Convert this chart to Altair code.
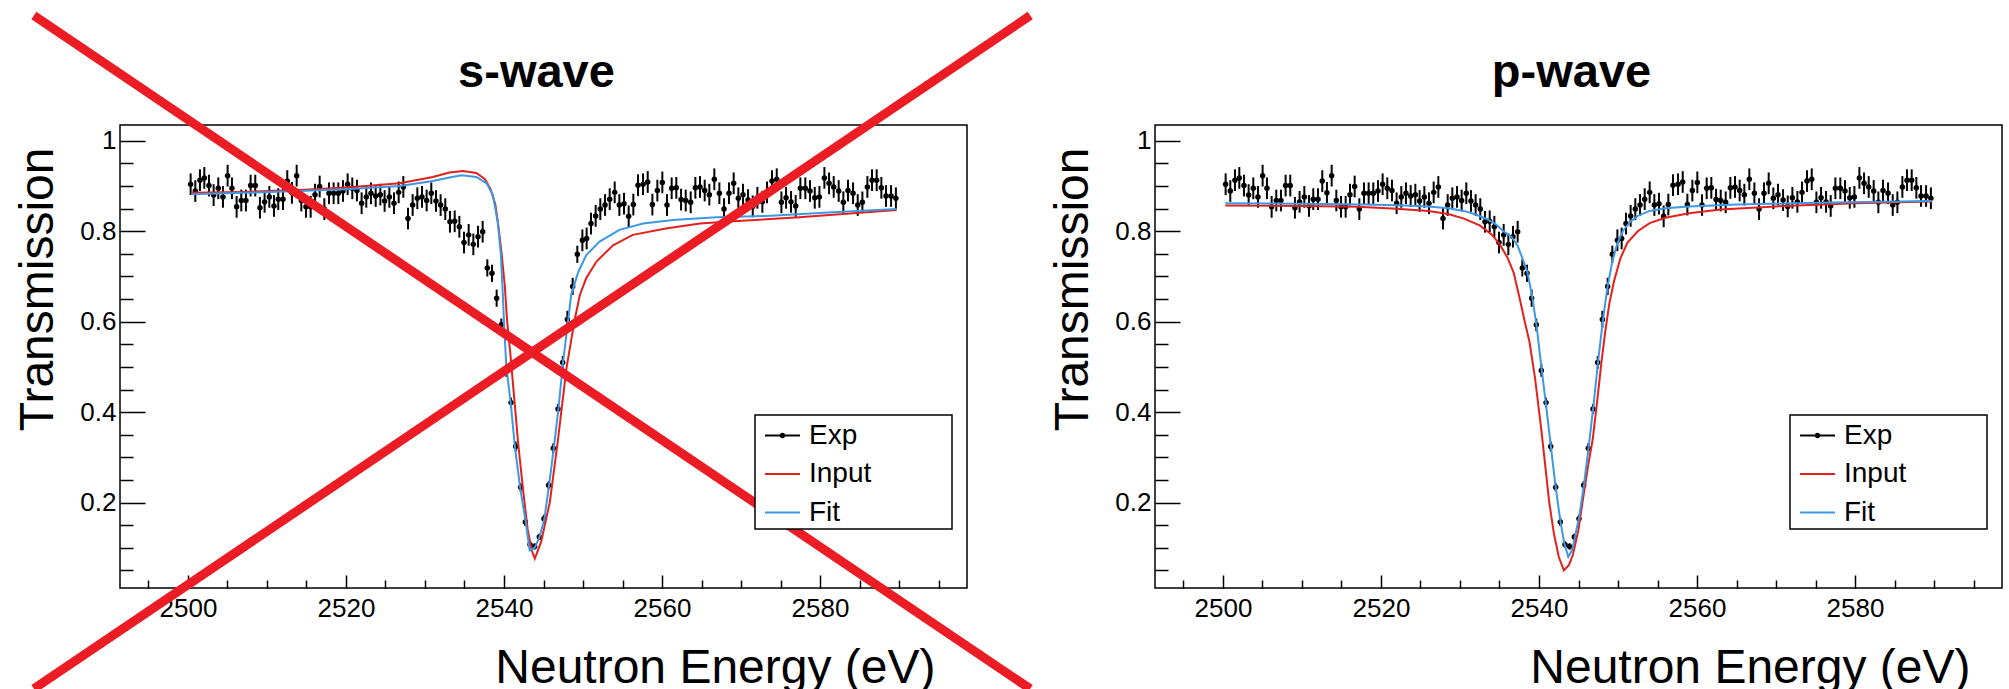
import altair as alt
import pandas as pd

FONT = "Liberation Sans"

# measured transmission (same run shown in both panels)
energy = [
    2500.34, 2500.93, 2501.52, 2502.07, 2502.66, 2503.25, 2503.84, 2504.43, 2505.02, 2505.57,
    2506.16, 2506.75, 2507.34, 2507.93, 2508.52, 2509.11, 2509.70, 2510.30, 2510.89, 2511.43,
    2512.03, 2512.57, 2513.16, 2513.76, 2514.35, 2514.94, 2515.53, 2516.08, 2516.67, 2517.26,
    2517.85, 2518.44, 2519.03, 2519.62, 2520.21, 2520.80, 2521.39, 2521.98, 2522.57, 2523.16,
    2523.76, 2524.35, 2524.89, 2525.49, 2526.08, 2526.67, 2527.26, 2527.85, 2528.44, 2529.03,
    2529.62, 2530.21, 2530.80, 2531.39, 2531.98, 2532.57, 2533.16, 2533.76, 2534.35, 2534.94,
    2535.53, 2536.12, 2536.71, 2537.30, 2537.89, 2538.48, 2539.07, 2539.66, 2540.30, 2540.89,
    2541.48, 2542.11, 2542.70, 2543.29, 2543.88, 2544.47, 2545.06, 2545.65, 2546.24, 2546.84,
    2547.43, 2548.02, 2548.69, 2549.28, 2549.92, 2550.46, 2551.01, 2551.60, 2552.19, 2552.79,
    2553.38, 2554.01, 2554.60, 2555.19, 2555.78, 2556.37, 2556.96, 2557.60, 2558.19, 2558.78,
    2559.41, 2560.04, 2560.63, 2561.22, 2561.81, 2562.41, 2563.00, 2563.63, 2564.22, 2564.81,
    2565.40, 2565.99, 2566.62, 2567.26, 2567.85, 2568.48, 2569.07, 2569.66, 2570.25, 2570.89,
    2571.48, 2572.07, 2572.70, 2573.29, 2573.92, 2574.52, 2575.11, 2575.70, 2576.33, 2576.92,
    2577.51, 2578.14, 2578.73, 2579.33, 2579.92, 2580.55, 2581.14, 2581.73, 2582.36, 2582.95,
    2583.54, 2584.18, 2584.77, 2585.36, 2585.99, 2586.58, 2587.17, 2587.76, 2588.35, 2588.99,
    2589.60,
]
transmission = [
    0.904, 0.889, 0.913, 0.918, 0.901, 0.880, 0.895, 0.876, 0.923, 0.895,
    0.854, 0.868, 0.868, 0.901, 0.901, 0.852, 0.865, 0.876, 0.856, 0.871,
    0.871, 0.911, 0.885, 0.923, 0.868, 0.854, 0.854, 0.881, 0.899, 0.849,
    0.884, 0.884, 0.884, 0.889, 0.904, 0.895, 0.890, 0.862, 0.876, 0.884,
    0.878, 0.881, 0.867, 0.876, 0.862, 0.886, 0.898, 0.828, 0.858, 0.873,
    0.876, 0.868, 0.884, 0.867, 0.858, 0.849, 0.821, 0.822, 0.810, 0.775,
    0.792, 0.771, 0.788, 0.799, 0.719, 0.707, 0.652, 0.593, 0.492, 0.421,
    0.324, 0.234, 0.157, 0.107, 0.103, 0.124, 0.164, 0.238, 0.320, 0.407,
    0.510, 0.605, 0.678, 0.749, 0.780, 0.784, 0.817, 0.834, 0.849, 0.858,
    0.871, 0.886, 0.858, 0.861, 0.833, 0.859, 0.902, 0.904, 0.909, 0.859,
    0.890, 0.908, 0.858, 0.895, 0.896, 0.870, 0.868, 0.864, 0.896, 0.898,
    0.890, 0.881, 0.915, 0.884, 0.849, 0.884, 0.906, 0.873, 0.881, 0.869,
    0.855, 0.874, 0.865, 0.886, 0.911, 0.915, 0.864, 0.874, 0.865, 0.856,
    0.895, 0.895, 0.889, 0.874, 0.876, 0.918, 0.906, 0.898, 0.889, 0.864,
    0.890, 0.884, 0.858, 0.864, 0.898, 0.913, 0.913, 0.896, 0.878, 0.878,
    0.873,
]
t_error = [
    0.024, 0.024, 0.024, 0.024, 0.024, 0.024, 0.024, 0.024, 0.024, 0.024,
    0.024, 0.024, 0.024, 0.024, 0.024, 0.024, 0.024, 0.024, 0.024, 0.024,
    0.024, 0.024, 0.024, 0.024, 0.024, 0.024, 0.024, 0.024, 0.024, 0.024,
    0.024, 0.024, 0.024, 0.024, 0.024, 0.024, 0.024, 0.024, 0.024, 0.024,
    0.024, 0.024, 0.024, 0.024, 0.024, 0.024, 0.024, 0.024, 0.024, 0.024,
    0.024, 0.024, 0.024, 0.024, 0.024, 0.024, 0.024, 0.024, 0.024, 0.024,
    0.024, 0.024, 0.024, 0.024, 0.019, 0.019, 0.019, 0.014, 0.014, 0.011,
    0.011, 0.009, 0.009, 0.007, 0.007, 0.007, 0.009, 0.009, 0.011, 0.011,
    0.014, 0.019, 0.019, 0.019, 0.024, 0.024, 0.024, 0.024, 0.024, 0.024,
    0.024, 0.024, 0.024, 0.024, 0.024, 0.024, 0.024, 0.024, 0.024, 0.024,
    0.024, 0.024, 0.024, 0.024, 0.024, 0.024, 0.024, 0.024, 0.024, 0.024,
    0.024, 0.024, 0.024, 0.024, 0.024, 0.024, 0.024, 0.024, 0.024, 0.024,
    0.024, 0.024, 0.024, 0.024, 0.024, 0.024, 0.024, 0.024, 0.024, 0.024,
    0.024, 0.024, 0.024, 0.024, 0.024, 0.024, 0.024, 0.024, 0.024, 0.024,
    0.024, 0.024, 0.024, 0.024, 0.024, 0.024, 0.024, 0.024, 0.024, 0.024,
    0.024,
]

# s-wave: input and fitted curves
s_input_e = [2500.4, 2507.0, 2514.1, 2518.4, 2522.5, 2526.8, 2531.0, 2533.1, 2534.8, 2536.5,
             2537.6, 2538.3, 2538.9, 2539.3, 2539.7, 2540.1, 2540.4, 2540.8, 2541.3, 2541.8,
             2542.4, 2543.0, 2543.5, 2543.9, 2544.7, 2545.8, 2546.8, 2547.9, 2548.9, 2549.6,
             2550.4, 2551.7, 2553.8, 2556.3, 2560.5, 2564.8, 2569.0, 2577.4, 2589.7]
s_input_t = [0.885, 0.887, 0.891, 0.895, 0.900, 0.906, 0.920, 0.930, 0.933, 0.929,
             0.915, 0.893, 0.860, 0.810, 0.750, 0.680, 0.600, 0.530, 0.430, 0.330,
             0.230, 0.140, 0.095, 0.076, 0.113, 0.201, 0.334, 0.496, 0.600, 0.659,
             0.696, 0.733, 0.769, 0.792, 0.806, 0.817, 0.822, 0.831, 0.847]
s_fit_e = [2500.4, 2507.0, 2514.1, 2520.0, 2526.8, 2531.0, 2533.1, 2534.6, 2536.5, 2537.8,
           2538.6, 2539.2, 2539.6, 2539.85, 2540.05, 2540.3, 2540.85, 2541.4, 2542.07, 2542.75,
           2543.25, 2543.9, 2544.5, 2545.1, 2545.7, 2546.3, 2546.9, 2547.5, 2548.1, 2548.5,
           2549.4, 2550.4, 2552.1, 2554.6, 2557.6, 2561.4, 2566.9, 2573.2, 2581.6, 2589.7]
s_fit_t = [0.882, 0.885, 0.889, 0.893, 0.900, 0.911, 0.919, 0.924, 0.920, 0.906,
           0.880, 0.821, 0.750, 0.660, 0.580, 0.500, 0.420, 0.320, 0.230, 0.157,
           0.094, 0.100, 0.124, 0.163, 0.238, 0.320, 0.409, 0.514, 0.600, 0.659,
           0.710, 0.747, 0.777, 0.803, 0.817, 0.825, 0.831, 0.834, 0.842, 0.849]

# p-wave: input and fitted curves
p_input_e = [2500.3, 2510.0, 2517.0, 2522.0, 2526.0, 2528.5, 2530.5, 2532.5, 2534.0, 2535.0,
             2536.0, 2536.8, 2537.6, 2538.2, 2538.8, 2539.5, 2540.3, 2540.8, 2541.3, 2541.9,
             2542.5, 2543.15, 2543.8, 2544.3, 2545.0, 2545.5, 2546.2, 2546.8, 2547.4, 2547.9,
             2548.4, 2548.9, 2549.5, 2550.3, 2551.2, 2552.5, 2554.0, 2556.0, 2559.0, 2563.0,
             2570.0, 2580.0, 2589.7]
p_input_t = [0.857, 0.856, 0.854, 0.850, 0.845, 0.838, 0.828, 0.813, 0.793, 0.772,
             0.742, 0.708, 0.648, 0.600, 0.555, 0.475, 0.360, 0.280, 0.200, 0.130,
             0.080, 0.050, 0.062, 0.085, 0.140, 0.200, 0.280, 0.340, 0.430, 0.510,
             0.580, 0.640, 0.690, 0.740, 0.775, 0.800, 0.818, 0.830, 0.840, 0.848,
             0.855, 0.862, 0.866]
p_fit_e = [2500.3, 2510.0, 2518.0, 2523.0, 2526.0, 2528.5, 2530.5, 2532.0, 2533.5, 2534.5,
           2535.5, 2536.5, 2537.3, 2537.9, 2538.5, 2539.1, 2539.7, 2540.3, 2540.9, 2541.5,
           2542.1, 2542.7, 2543.2, 2543.7, 2544.2, 2544.5, 2545.1, 2545.7, 2546.3, 2546.9,
           2547.5, 2548.1, 2548.7, 2549.3, 2549.9, 2550.6, 2551.5, 2552.5, 2554.0, 2556.0,
           2559.0, 2565.0, 2575.0, 2589.7]
p_fit_t = [0.862, 0.861, 0.859, 0.857, 0.855, 0.851, 0.845, 0.837, 0.826, 0.816,
           0.800, 0.788, 0.768, 0.740, 0.712, 0.660, 0.590, 0.500, 0.415, 0.325,
           0.235, 0.160, 0.110, 0.080, 0.095, 0.120, 0.170, 0.240, 0.325, 0.415,
           0.515, 0.605, 0.680, 0.735, 0.772, 0.800, 0.820, 0.834, 0.845, 0.851,
           0.855, 0.859, 0.863, 0.867]

# axis ticks and labels
x_ticks = [2495, 2500, 2505, 2510, 2515, 2520, 2525, 2530, 2535, 2540, 2545,
           2550, 2555, 2560, 2565, 2570, 2575, 2580, 2585, 2590, 2595]
x_labels = [2500, 2520, 2540, 2560, 2580]
y_ticks = [0.05, 0.10, 0.15, 0.20, 0.25, 0.30, 0.35, 0.40, 0.45, 0.50,
           0.55, 0.60, 0.65, 0.70, 0.75, 0.80, 0.85, 0.90, 0.95, 1.00]
y_labels = [0.2, 0.4, 0.6, 0.8, 1.0]

series_names = ["Exp", "Input", "Fit"]
series_colors = ["#000000", "#e3201b", "#3d98e3"]
EXP_COLOR, INPUT_COLOR, FIT_COLOR = series_colors

# strike-through over the s-wave panel, end points in that panel's data units
cross_id = ["a", "a", "b", "b"]
cross_e = [2480.5, 2606.6, 2480.5, 2606.6]
cross_t = [1.277, -0.212, -0.212, 1.277]

X_DOMAIN = [2491.4, 2598.6]
Y_DOMAIN = [0.011, 1.035]
W, H = 847, 463

xs = alt.Scale(domain=X_DOMAIN, nice=False, zero=False)
ys = alt.Scale(domain=Y_DOMAIN, nice=False, zero=False)

# non-breaking spaces widen the legend box; the trailing zero-width space keeps them from being trimmed
LABEL_PAD = "\u00a0" * 10 + "\u200b"
# legend glyph for the data: a short line with a small ring (reads as a dot) in the middle
EXP_SYMBOL = "M-1,0H1M-0.1,0A0.1,0.1,0,1,1,0.1,0A0.1,0.1,0,1,1,-0.1,0Z"

label_x_axis = alt.Axis(
    orient="bottom", values=x_labels, format="d", ticks=False, tickSize=0, domain=False,
    grid=False, labelFont=FONT, labelFontSize=26, labelColor="black", labelPadding=7,
    labelFlush=False, labelOverlap=False,
    title="Neutron Energy (eV)", titleFont=FONT, titleFontSize=48, titleFontWeight="normal",
    titleColor="black", titleAlign="right", titleBaseline="alphabetic", titleX=815, titleY=94,
)
label_y_axis = alt.Axis(
    orient="left", values=y_labels, format="~g", ticks=False, tickSize=0, domain=False,
    grid=False, labelFont=FONT, labelFontSize=26, labelColor="black", labelPadding=4,
    labelFlush=False, labelOverlap=False,
    title="Transmission", titleFont=FONT, titleFontSize=48, titleFontWeight="normal",
    titleColor="black", titleAngle=270, titleAlign="right", titleBaseline="alphabetic",
    titleX=-68, titleY=22,
)
# inward-pointing ticks drawn from the frame edges
tick_x_axis = alt.Axis(
    orient="top", offset=-H, values=x_ticks, labels=False, domain=False, grid=False,
    tickColor="black", tickWidth=1.5,
    tickSize={"condition": {"test": "datum.value % 20 == 0", "value": 13}, "value": 8},
    title=None,
)
tick_y_axis = alt.Axis(
    orient="right", offset=-W, values=y_ticks, labels=False, domain=False, grid=False,
    tickColor="black", tickWidth=1.5,
    tickSize={"condition": {"test": "abs(datum.value * 5 - round(datum.value * 5)) < 0.001",
                            "value": 25}, "value": 13},
    title=None,
)

legend = alt.Legend(
    orient="none", legendX=635, legendY=290, title=None, direction="vertical",
    fillColor="white", strokeColor="black", padding=2,
    labelFont=FONT, labelFontSize=28, labelColor="black", labelOffset=8, labelLimit=400,
    labelExpr="datum.label + '" + LABEL_PAD + "'",
    symbolSize=1225, symbolStrokeWidth=2, symbolOffset=7, rowPadding=5.5, symbolOpacity=1,
)

exp_df = pd.DataFrame({"E": energy, "T": transmission, "err": t_error})


def panel(title, input_e, input_t, fit_e, fit_t, title_dy, crossed):
    input_df = pd.DataFrame({"E": input_e, "T": input_t, "series": "Input"})
    fit_df = pd.DataFrame({"E": fit_e, "T": fit_t, "series": "Fit"})
    bars = alt.Chart(exp_df).transform_calculate(
        lo="datum.T - datum.err", hi="datum.T + datum.err"
    ).mark_rule(color=EXP_COLOR, strokeWidth=2).encode(
        x=alt.X("E:Q", scale=xs, axis=label_x_axis),
        y=alt.Y("lo:Q", scale=ys, axis=label_y_axis),
        y2="hi:Q",
    )
    points = alt.Chart(exp_df).mark_circle(color=EXP_COLOR, size=30, opacity=1).encode(
        x=alt.X("E:Q", scale=xs, axis=tick_x_axis),
        y=alt.Y("T:Q", scale=ys, axis=tick_y_axis),
    )
    input_line = alt.Chart(input_df).mark_line(color=INPUT_COLOR, strokeWidth=2).encode(
        x=alt.X("E:Q", scale=xs, axis=None),
        y=alt.Y("T:Q", scale=ys, axis=None),
    )
    fit_line = alt.Chart(fit_df).mark_line(color=FIT_COLOR, strokeWidth=2).encode(
        x=alt.X("E:Q", scale=xs, axis=None),
        y=alt.Y("T:Q", scale=ys, axis=None),
    )
    # transparent copy of the curves that only carries the legend glyphs
    key = alt.Chart(pd.concat([input_df, fit_df])).mark_point(
        filled=False, strokeWidth=2, opacity=0
    ).encode(
        x=alt.X("E:Q", scale=xs, axis=None),
        y=alt.Y("T:Q", scale=ys, axis=None),
        color=alt.Color("series:N", legend=legend,
                        scale=alt.Scale(domain=series_names, range=series_colors)),
        shape=alt.Shape("series:N", legend=legend,
                        scale=alt.Scale(domain=series_names,
                                        range=[EXP_SYMBOL, "stroke", "stroke"])),
    )
    layers = [bars, points, input_line, fit_line, key]
    if crossed:
        cross_df = pd.DataFrame({"id": cross_id, "E": cross_e, "T": cross_t})
        cross = alt.Chart(cross_df).mark_line(
            color="#ec1c24", strokeWidth=9, clip=False, strokeCap="butt"
        ).encode(
            x=alt.X("E:Q", scale=xs, axis=None),
            y=alt.Y("T:Q", scale=ys, axis=None),
            detail="id:N",
        )
        layers.append(cross)
    return alt.layer(*layers).resolve_axis(
        x="independent", y="independent"
    ).properties(
        width=W, height=H,
        title=alt.TitleParams(
            text=title, font=FONT, fontSize=47, fontWeight="bold", color="black",
            anchor="middle", frame="group", baseline="alphabetic", offset=32,
            dx=-7, dy=title_dy,
        ),
    )


left = panel("s-wave", s_input_e, s_input_t, s_fit_e, s_fit_t, 168, True)
right = panel("p-wave", p_input_e, p_input_t, p_fit_e, p_fit_t, 41, False)

chart = alt.hconcat(left, right, spacing=188, bounds="flush").resolve_scale(
    color="independent", shape="independent", x="independent", y="independent"
).resolve_legend(
    color="independent", shape="independent"
).properties(
    padding={"left": 13, "top": -4, "right": 0, "bottom": 0},
    background="white",
).configure_view(stroke="black", strokeWidth=1.5).configure_legend(strokeWidth=1.5)

chart.save("out.html", embed_options={"renderer": "svg", "actions": False})
